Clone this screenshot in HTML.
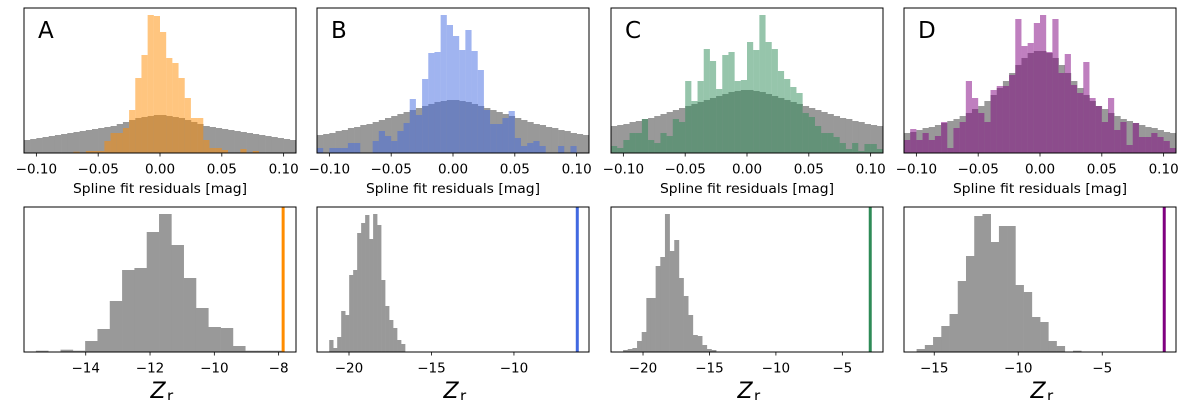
<!DOCTYPE html>
<html><head><meta charset="utf-8"><style>
html,body{margin:0;padding:0;background:#fff;}
svg{display:block;font-family:"DejaVu Sans","Liberation Sans",sans-serif;}
</style></head><body>
<svg id="fig" width="1200" height="400" viewBox="0 0 1200 400" xmlns="http://www.w3.org/2000/svg"></svg>
<script>
// ---- data ----
const panelLabels = ["A","B","C","D"];
const panelColors = ["#ff8c00","#4169e1","#2e8b57","#800080"];
const residualBinStart = -0.11;
const residualBinWidth = 0.005;
const grayA = [13,14,15,16,17,18,19,20,21,22,23,24,25,26,27,29,31,33,35,36,37,38,38,37,36,35,33,31,29,27,26,25,24,23,22,21,20,19,18,17,16,15,14,13];
const grayB = [18,19,20,22,23,25,26,28,29,31,33,35,37,39,41,43,45,47,49,51,52,53,53,52,51,49,47,45,43,41,39,37,35,33,31,29,28,26,25,23,22,20,19,18];
const grayC = [27,28,29,31,32,34,35,37,39,41,43,45,47,49,51,53,55,57,59,61,62,63,63,62,61,59,57,55,53,51,49,47,45,43,41,39,37,35,34,32,31,29,28,27];
const grayD = [20,21,23,25,26,28,30,32,34,37,40,44,47,52,58,65,72,80,88,95,100,102,102,100,95,88,80,72,65,58,52,47,44,40,37,34,32,30,28,26,25,23,21,20];
const colA = [0,0,0,0,0,0,0,0,1.3,0,2,2,2,12,20,20,25,43,75,98,138,137,121,95,90,75,55,35,35,13,5,5,3,0,0,4,0,2,0,0,0,0,0,0];
const colB = [5,0,5,5,5,10,10,0,0,12,22,17,12,22,30,54,38,74,100,101,138,128,117,103,123,102,83,43,29,29,35,42,15,7,10,12,7,0,0,7,0,7,0,0];
const colC = [7,5,13,20,20,34,13,10,20,17,34,31,72,52,72,104,92,64,98,101,72,73,111,103,138,111,104,82,74,66,60,40,36,27,20,20,16,10,4,10,2,9,9,4];
const colD = [13,24,13,20,13,17,31,5,25,31,72,55,40,31,63,67,67,78,134,107,110,130,138,101,134,80,99,68,60,91,55,47,31,55,23,31,8,30,16,16,20,16,12,5];
const zStartA = -15.55, zWidthA = 0.383;
const zCountsA = [1.3,0,2.3,1.3,11,23,51,82,84,120,138,107,74,44,25,24,6,1.3,1.3,1.3];
const zStartB = -21.2, zWidthB = 0.242;
const zCountsB = [12,4,15,41,37,77,82,119,129,137,113,138,127,72,46,32,24,12,8];
const zStartC = -21.5, zWidthC = 0.35;
const zCountsC = [2,3,4,11,20,54,54,86,95,138,101,112,74,56,37,17,16,7,3,2];
const zStartD = -16.05, zWidthD = 0.49;
const zCountsD = [3,7,15,26,38,71,96,136,138,110,126,126,67,60,35,30,11,6,0,1.3];
const observedZ = [-7.86,-6.16,-2.9,-1.31];
const zLimits = [[-15.92,-7.46],[-21.94,-5.45],[-22.41,-1.94],[-16.8,-0.61]];
const zTicks = [[-14,-12,-10,-8],[-20,-15,-10],[-20,-15,-10,-5],[-15,-10,-5]];
const resTicks = [-0.10,-0.05,0.00,0.05,0.10];
const resTickLabels = ["\u22120.10","\u22120.05","0.00","0.05","0.10"];

const grays=[grayA,grayB,grayC,grayD];
const cols=[colA,colB,colC,colD];
const zStarts=[zStartA,zStartB,zStartC,zStartD];
const zWidths=[zWidthA,zWidthB,zWidthC,zWidthD];
const zCounts=[zCountsA,zCountsB,zCountsC,zCountsD];

const NS="http://www.w3.org/2000/svg";
const svg=document.getElementById('fig');
function mk(tag,attrs,parent){const e=document.createElementNS(NS,tag);for(const k in attrs)e.setAttribute(k,attrs[k]);(parent||svg).appendChild(e);return e;}
function fmt(v){return (v<0?"\u2212":"")+Math.abs(v);}

const lefts=[24,317,611,904], W=272, H=145, topY=8, botY=207;
for(let p=0;p<4;p++){
  const L=lefts[p];
  // ---- top panel ----
  const g=mk('g',{});
  
  
  const sx=v=>L+(v+0.11)/0.22*W;
  const sy=v=>topY+H-v/145*H;
  grays[p].forEach((c,i)=>{const x0=sx(residualBinStart+i*residualBinWidth),x1=sx(residualBinStart+(i+1)*residualBinWidth);
    const r=mk('rect',{x:x0,y:sy(c),width:x1-x0+0.3,height:topY+H-sy(c),fill:'#999999'},g);
    
    });
  cols[p].forEach((c,i)=>{if(c<=0)return;const x0=sx(residualBinStart+i*residualBinWidth),x1=sx(residualBinStart+(i+1)*residualBinWidth);
    const r=mk('rect',{x:x0,y:sy(c),width:x1-x0,height:topY+H-sy(c),fill:panelColors[p],'fill-opacity':0.5},g);
    
    });
  const fr=mk('rect',{x:L,y:topY,width:W,height:H,fill:'none',stroke:'#000','stroke-width':1},g);
  
  
  resTicks.forEach((t,i)=>{const x=sx(t);mk('line',{x1:x,x2:x,y1:topY+H,y2:topY+H+3.5,stroke:'#000','stroke-width':0.8},g);
    const tx=mk('text',{x:x,y:173.5,'font-size':13.5,'text-anchor':'middle'},g);tx.textContent=resTickLabels[i];
    
    });
  const xl=mk('text',{x:L+W/2,y:193,'font-size':13.5,'text-anchor':'middle',textLength:174,lengthAdjust:'spacingAndGlyphs'},g);xl.textContent='Spline fit residuals [mag]';
  
  
  const pl=mk('text',{x:L+14,y:38,'font-size':23},g);pl.textContent=panelLabels[p];
  
  
  // ---- bottom panel ----
  const g2=mk('g',{});
  
  
  const [z0,z1]=zLimits[p];
  const zx=v=>L+(v-z0)/(z1-z0)*W;
  const zy=v=>botY+H-v/145*H;
  zCounts[p].forEach((c,i)=>{if(c<=0)return;const x0=zx(zStarts[p]+i*zWidths[p]),x1=zx(zStarts[p]+(i+1)*zWidths[p]);
    const r=mk('rect',{x:x0,y:zy(c),width:x1-x0+0.3,height:botY+H-zy(c),fill:'#999999'},g2);
    
    });
  const ox=zx(observedZ[p]);
  const ol=mk('line',{x1:ox,x2:ox,y1:botY,y2:botY+H,stroke:panelColors[p],'stroke-width':3},g2);
  
  
  const fr2=mk('rect',{x:L,y:botY,width:W,height:H,fill:'none',stroke:'#000','stroke-width':1},g2);
  
  
  zTicks[p].forEach(t=>{const x=zx(t);mk('line',{x1:x,x2:x,y1:botY+H,y2:botY+H+3.5,stroke:'#000','stroke-width':0.8},g2);
    const tx=mk('text',{x:x,y:372.5,'font-size':13.5,'text-anchor':'middle'},g2);tx.textContent=fmt(t);
    
    });
  const zl=mk('text',{x:L+W/2-2,y:398,'font-size':22,'font-style':'italic','text-anchor':'middle'},g2);
  zl.textContent='Z';
  
  
  const zs=mk('text',{x:L+W/2+7,y:401,'font-size':15,'text-anchor':'start'},g2);
  zs.textContent='r';
  
  
}
</script>
</body></html>
